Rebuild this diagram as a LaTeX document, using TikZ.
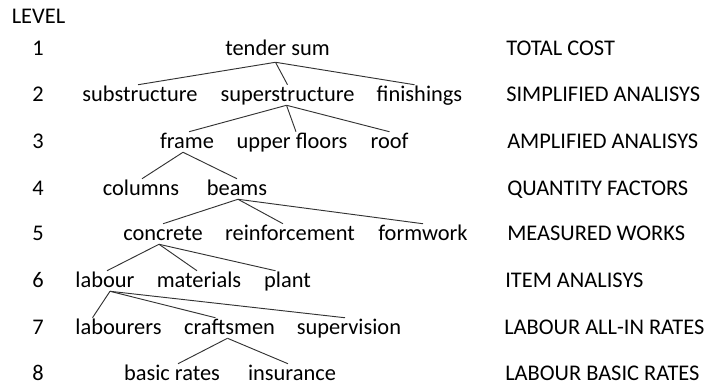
\documentclass[tikz,border=0pt]{standalone}
\usepackage{fontspec}
\setmainfont{Carlito}
\usetikzlibrary{calc}

\begin{document}
\begin{tikzpicture}[x=0.75pt,y=-0.75pt,
    txt/.style={inner sep=0pt,font=\fontsize{16.8}{19}\selectfont},
    item/.style={txt,anchor=base,text height=12pt,text depth=3pt},
    lvl/.style={txt,anchor=base},
    desc/.style={txt,anchor=base west},
    link/.style={draw=black!80,line width=0.7pt}]
  \useasboundingbox (0,0) rectangle (711,387);
  % level column
  \node[lvl] (lv) at (38.5,23) {LEVEL};
  \node[lvl] (n1) at (38,55) {1};
  \node[lvl] (n2) at (38,101) {2};
  \node[lvl] (n3) at (38,148) {3};
  \node[lvl] (n4) at (38,195) {4};
  \node[lvl] (n5) at (38,240) {5};
  \node[lvl] (n6) at (38,287) {6};
  \node[lvl] (n7) at (38,334) {7};
  \node[lvl] (n8) at (38,380) {8};
  % tree
  \node[item] (tender) at (277.5,55) {tender sum};
  \node[item] (sub) at (140,101) {substructure};
  \node[item] (super) at (287.5,101) {superstructure};
  \node[item] (finish) at (419.5,101) {finishings};
  \node[item] (frame) at (187,148) {frame};
  \node[item] (upper) at (292,148) {upper floors};
  \node[item] (roof) at (389.5,148) {roof};
  \node[item] (columns) at (141,195) {columns};
  \node[item] (beams) at (237,195) {beams};
  \node[item] (concrete) at (163,240) {concrete};
  \node[item] (reinf) at (290,240) {reinforcement};
  \node[item] (formwork) at (423,240) {formwork};
  \node[item] (labour) at (105,287) {labour};
  \node[item] (materials) at (199,287) {materials};
  \node[item] (plant) at (287.5,287) {plant};
  \node[item] (labourers) at (118.5,334) {labourers};
  \node[item] (crafts) at (229.5,334) {craftsmen};
  \node[item] (superv) at (349,334) {supervision};
  \node[item] (basic) at (172,380) {basic rates};
  \node[item] (insur) at (292,380) {insurance};
  % descriptions
  \node[desc] (d1) at (506,55) {TOTAL COST};
  \node[desc] (d2) at (506,101) {SIMPLIFIED ANALISYS};
  \node[desc] (d3) at (507,148) {AMPLIFIED ANALISYS};
  \node[desc] (d4) at (507,195) {QUANTITY FACTORS};
  \node[desc] (d5) at (507,240) {MEASURED WORKS};
  \node[desc] (d6) at (505,287) {ITEM ANALISYS};
  \node[desc] (d7) at (504,334) {LABOUR ALL-IN RATES};
  \node[desc] (d8) at (505,380) {LABOUR BASIC RATES};
  % connectors
  \draw[link] ($(tender.south)+(-2,3)$) -- ($(sub.north)+(-2,0)$);
  \draw[link] ($(tender.south)+(-2,3)$) -- (super.north);
  \draw[link] ($(tender.south)+(-2,3)$) -- ($(finish.north)+(-5,0)$);
  \draw[link] ($(super.south)+(-1,0)$) -- ($(frame.north)+(2,0)$);
  \draw[link] ($(super.south)+(-1,0)$) -- ($(upper.north)+(4,0)$);
  \draw[link] ($(super.south)+(-1,0)$) -- (roof.north);
  \draw[link] ($(frame.south)+(-4,0)$) -- ($(columns.north)+(1,0)$);
  \draw[link] ($(frame.south)+(-4,0)$) -- (beams.north);
  \draw[link] ($(beams.south)+(1,0)$) -- (concrete.north);
  \draw[link] ($(beams.south)+(1,0)$) -- ($(reinf.north)+(-7,0)$);
  \draw[link] ($(beams.south)+(1,0)$) -- (formwork.north);
  \draw[link] ($(concrete.south)+(-4,0)$) -- ($(labour.north)+(2,0)$);
  \draw[link] ($(concrete.south)+(-4,0)$) -- ($(materials.north)+(-2,0)$);
  \draw[link] ($(concrete.south)+(-4,0)$) -- ($(plant.north)+(-12,0)$);
  \draw[link] ($(labour.south)+(5,0)$) -- ($(labourers.north)+(-26,0)$);
  \draw[link] ($(labour.south)+(5,0)$) -- ($(crafts.north)+(-14,0)$);
  \draw[link] ($(labour.south)+(5,0)$) -- ($(superv.north)+(-4,0)$);
  \draw[link] ($(crafts.south)+(-2,0)$) -- ($(basic.north)+(6,0)$);
  \draw[link] ($(crafts.south)+(-2,0)$) -- ($(insur.north)+(-4,0)$);
\end{tikzpicture}
\end{document}
